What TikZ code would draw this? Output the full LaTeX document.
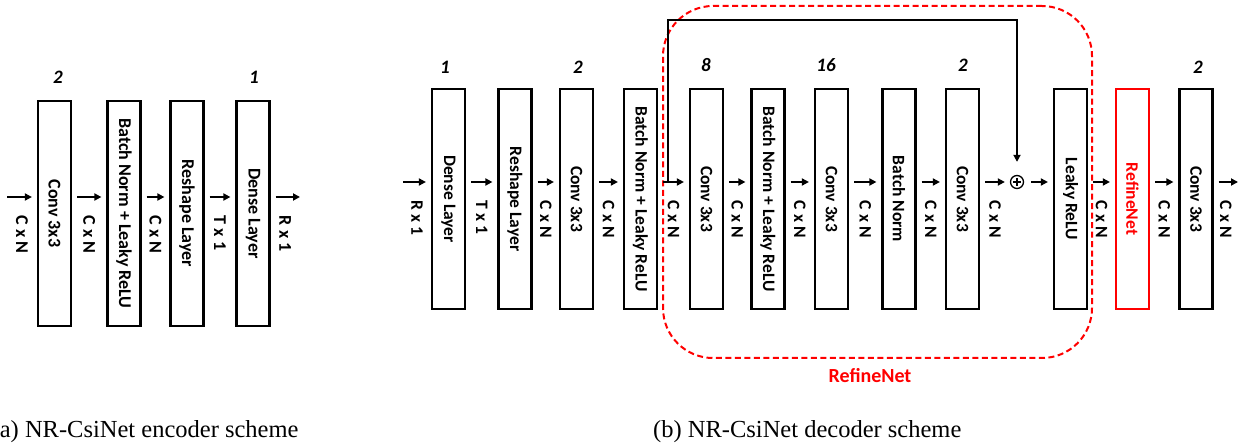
\documentclass[tikz,border=0pt]{standalone}
\usepackage{fontspec}
\setmainfont{Carlito}
\newfontfamily\capfont{Liberation Serif}
\usetikzlibrary{arrows.meta, positioning}
\tikzset{
  layer/.style={draw, line width=2.2pt, minimum width=33pt, inner sep=0pt, fill=white},
  enclayer/.style={layer, minimum height=225pt, font=\fontsize{18}{20}\selectfont\bfseries},
  declayer/.style={layer, minimum height=220pt, font=\fontsize{17.5}{20}\selectfont\bfseries},
  flow/.style={draw, line width=1.8pt, -{Triangle[length=7pt,width=7pt]},
    shorten <=5pt, shorten >=5pt},
  encdim/.style={rotate=-90, anchor=west, xshift=18pt, inner sep=0pt,
    font=\fontsize{18}{20}\selectfont\bfseries},
  decdim/.style={rotate=-90, anchor=west, xshift=18pt, inner sep=0pt,
    font=\fontsize{17.5}{20}\selectfont\bfseries},
  chan/.style={font=\fontsize{19}{20}\selectfont\bfseries\itshape},
  refgroup/.style={draw=red, line width=2pt, dash pattern=on 6pt off 3.5pt,
    rounded corners=50pt},
  skip/.style={flow, shorten <=0pt, shorten >=13pt},
}
\newcommand{\vtxt}[1]{\rotatebox{-90}{#1}}

\begin{document}
\begin{tikzpicture}[x=1pt, y=-1pt]
  \useasboundingbox (0,0) rectangle (1247,443);

  % encoder
  \coordinate (encRow) at (0,197);
  \coordinate (encIn)  at (7,197);
  \coordinate (encOut) at (300,197);
  \node[enclayer] (encConv)    at (54.5,213.5) {\vtxt{Conv 3x3}};
  \node[enclayer] (encBn)      at (124,213.5)  {\vtxt{Batch Norm + Leaky ReLU}};
  \node[enclayer] (encReshape) at (187,213.5)  {\vtxt{Reshape Layer}};
  \node[enclayer] (encDense)   at (253,213.5)  {\vtxt{Dense Layer}};
  \node[chan] (encConvCh)  at (58,77)  {2};
  \node[chan] (encDenseCh) at (254,77) {1};

  \draw[flow, shorten <=0pt] (encIn) -- (encConv.west |- encRow)
    node[midway, encdim] {C x N};
  \draw[flow] (encConv.east |- encRow) -- (encBn.west |- encRow)
    node[midway, encdim] {C x N};
  \draw[flow] (encBn.east |- encRow) -- (encReshape.west |- encRow)
    node[midway, encdim] {C x N};
  \draw[flow] (encReshape.east |- encRow) -- (encDense.west |- encRow)
    node[midway, encdim] {T x 1};
  \draw[flow, shorten >=0pt] (encDense.east |- encRow) -- (encOut)
    node[midway, encdim] {R x 1};

  % decoder
  \node[refgroup, minimum width=429pt, minimum height=352pt] (rfGroup) at (877.5,182) {};
  \node[text=red, font=\fontsize{20}{22}\selectfont\bfseries] (rfName) at (870,376) {RefineNet};

  \coordinate (decRow) at (0,182);
  \coordinate (decIn)  at (403,182);
  \coordinate (decOut) at (1238,182);
  \coordinate (tap)    at (668,182);
  \node[declayer] (decDense)   at (448.5,199) {\vtxt{Dense Layer}};
  \node[declayer] (decReshape) at (515,199)   {\vtxt{Reshape Layer}};
  \node[declayer] (decConv)    at (576.5,199) {\vtxt{Conv 3x3}};
  \node[declayer] (decBn)      at (640.5,199) {\vtxt{Batch Norm + Leaky ReLU}};
  \node[declayer] (rfConvA)    at (706.5,199) {\vtxt{Conv 3x3}};
  \node[declayer] (rfBnA)      at (768,199)   {\vtxt{Batch Norm + Leaky ReLU}};
  \node[declayer] (rfConvB)    at (831.5,199) {\vtxt{Conv 3x3}};
  \node[declayer] (rfBn)       at (899,199)   {\vtxt{Batch Norm}};
  \node[declayer] (rfConvC)    at (962.5,199) {\vtxt{Conv 3x3}};
  \node[draw, circle, line width=1.3pt, minimum size=13pt, inner sep=0pt,
    path picture={\draw[line width=1.3pt]
      ([yshift=-2.5pt]path picture bounding box.north) -- ([yshift=2.5pt]path picture bounding box.south)
      ([xshift=2.5pt]path picture bounding box.west) -- ([xshift=-2.5pt]path picture bounding box.east);}]
    (add) at (1017,182) {};
  \node[declayer] (rfLrelu)    at (1070.5,199) {\vtxt{Leaky ReLU}};
  \node[declayer, draw=red, text=red] (refine) at (1132.5,199) {\vtxt{RefineNet}};
  \node[declayer] (outConv)    at (1196,199)  {\vtxt{Conv 3x3}};

  \node[chan] (decDenseCh) at (445,67)  {1};
  \node[chan] (decConvCh)  at (578,67)  {2};
  \node[chan] (rfConvACh)  at (706,65)  {8};
  \node[chan] (rfConvBCh)  at (826,65)  {16};
  \node[chan] (rfConvCCh)  at (963,65)  {2};
  \node[chan] (outConvCh)  at (1198,67) {2};

  \draw[flow, shorten <=0pt] (decIn) -- (decDense.west |- decRow)
    node[midway, decdim] {R x 1};
  \draw[flow] (decDense.east |- decRow) -- (decReshape.west |- decRow)
    node[midway, decdim] {T x 1};
  \draw[flow] (decReshape.east |- decRow) -- (decConv.west |- decRow)
    node[midway, decdim] {C x N};
  \draw[flow] (decConv.east |- decRow) -- (decBn.west |- decRow)
    node[midway, decdim] {C x N};
  \draw[flow] (decBn.east |- decRow) -- (rfConvA.west |- decRow)
    node[midway, decdim] {C x N};
  \draw[flow] (rfConvA.east |- decRow) -- (rfBnA.west |- decRow)
    node[midway, decdim] {C x N};
  \draw[flow] (rfBnA.east |- decRow) -- (rfConvB.west |- decRow)
    node[midway, decdim] {C x N};
  \draw[flow] (rfConvB.east |- decRow) -- (rfBn.west |- decRow)
    node[midway, decdim] {C x N};
  \draw[flow] (rfBn.east |- decRow) -- (rfConvC.west |- decRow)
    node[midway, decdim] {C x N};
  \draw[flow] (rfConvC.east |- decRow) -- (add)
    node[midway, decdim] {C x N};
  \draw[flow, shorten <=7pt] (add) -- (rfLrelu.west |- decRow);
  \draw[flow] (rfLrelu.east |- decRow) -- (refine.west |- decRow)
    node[midway, decdim] {C x N};
  \draw[flow] (refine.east |- decRow) -- (outConv.west |- decRow)
    node[midway, decdim] {C x N};
  \draw[flow, shorten >=0pt] (outConv.east |- decRow) -- (decOut)
    node[midway, decdim] {C x N};

  \draw[skip] (tap) -- (tap |- 0,20) -| (add);

  % captions
  \node[anchor=base west, inner sep=0pt, font=\capfont\fontsize{24.5}{26}\selectfont]
    (capEnc) at (-8.5,437) {(a) NR-CsiNet encoder scheme};
  \node[anchor=base west, inner sep=0pt, font=\capfont\fontsize{24.5}{26}\selectfont]
    (capDec) at (653,437) {(b) NR-CsiNet decoder scheme};
\end{tikzpicture}
\end{document}
